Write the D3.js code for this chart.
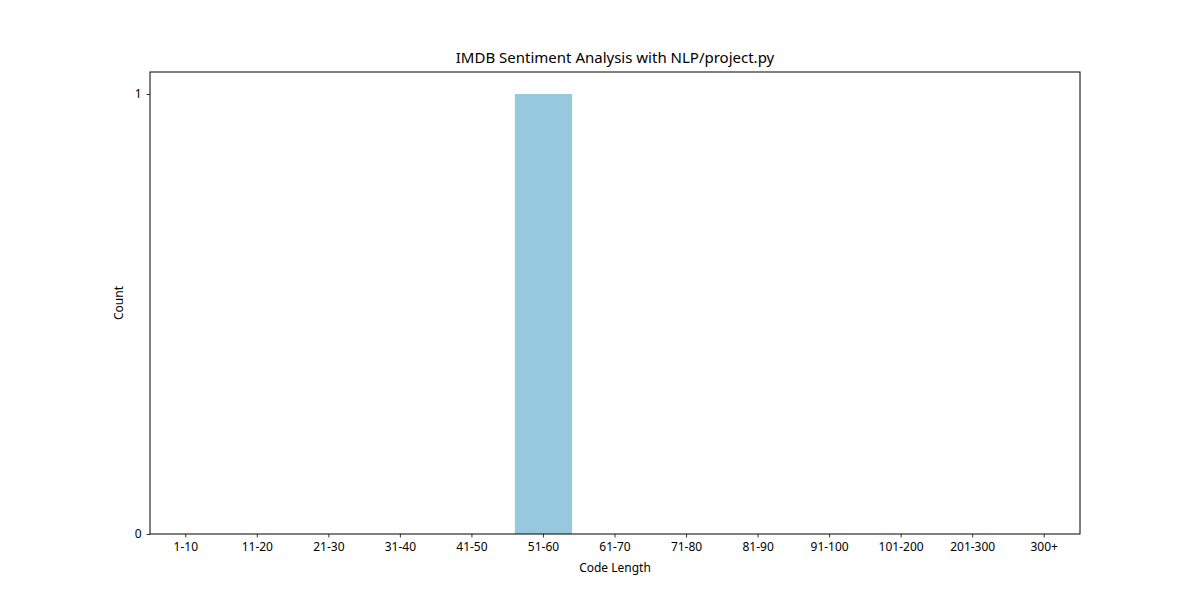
<!DOCTYPE html>
<html>
<head>
<meta charset="utf-8">
<script src="https://cdn.jsdelivr.net/npm/d3@7"></script>
<style>
  body { margin: 0; background: #fff; }
  text { font-family: "Noto Sans", "Open Sans", sans-serif; fill: #000; }
</style>
</head>
<body>
<svg id="chart" width="1200" height="600"></svg>
<script>
// data
var categories = ["1-10", "11-20", "21-30", "31-40", "41-50", "51-60", "61-70",
                  "71-80", "81-90", "91-100", "101-200", "201-300", "300+"];
var counts = [0, 0, 0, 0, 0, 1, 0, 0, 0, 0, 0, 0, 0];
var yTicks = [0, 1];

var margin = { left: 150, right: 120, top: 72, bottom: 66 };
var width = 1200 - margin.left - margin.right;
var height = 600 - margin.top - margin.bottom;

var svg = d3.select("#chart");
var g = svg.append("g")
    .attr("transform", "translate(" + margin.left + "," + margin.top + ")");

var x = d3.scaleBand()
    .domain(categories)
    .range([0, width])
    .paddingInner(0.2)
    .paddingOuter(0.1);

var y = d3.scaleLinear()
    .domain([0, 1.05])
    .range([height, 0]);

// bars
g.selectAll("rect.bar")
    .data(counts)
    .enter()
    .append("rect")
    .attr("class", "bar")
    .attr("x", function (d, i) { return x(categories[i]); })
    .attr("y", function (d) { return y(d); })
    .attr("width", x.bandwidth())
    .attr("height", function (d) { return height - y(d); })
    .attr("fill", "#96c9de");

// axes
var xAxis = g.append("g")
    .attr("transform", "translate(0," + height + ")")
    .call(d3.axisBottom(x).tickSizeOuter(0).tickSize(3.5).tickPadding(5));
var yAxis = g.append("g")
    .call(d3.axisLeft(y).tickValues(yTicks).tickFormat(d3.format("d")).tickSizeOuter(0).tickSize(3.5).tickPadding(5));

[xAxis, yAxis].forEach(function (a) {
    a.select(".domain").remove();
    a.selectAll("line").attr("stroke", "#000").attr("stroke-width", 0.8);
    a.selectAll("text").attr("font-size", "12px").style("font-family", '"Noto Sans", sans-serif');
});

// frame
g.append("rect")
    .attr("x", 0).attr("y", 0)
    .attr("width", width).attr("height", height)
    .attr("fill", "none")
    .attr("stroke", "#000")
    .attr("stroke-width", 1);

// title & labels
svg.append("text")
    .attr("x", margin.left + width / 2)
    .attr("y", 63)
    .attr("text-anchor", "middle")
    .attr("font-size", "15px")
    .text("IMDB Sentiment Analysis with NLP/project.py");

svg.append("text")
    .attr("x", margin.left + width / 2)
    .attr("y", 572)
    .attr("text-anchor", "middle")
    .attr("font-size", "12px")
    .text("Code Length");

svg.append("text")
    .attr("transform", "translate(123," + (margin.top + height / 2) + ") rotate(-90)")
    .attr("text-anchor", "middle")
    .attr("font-size", "12px")
    .text("Count");
</script>
</body>
</html>
